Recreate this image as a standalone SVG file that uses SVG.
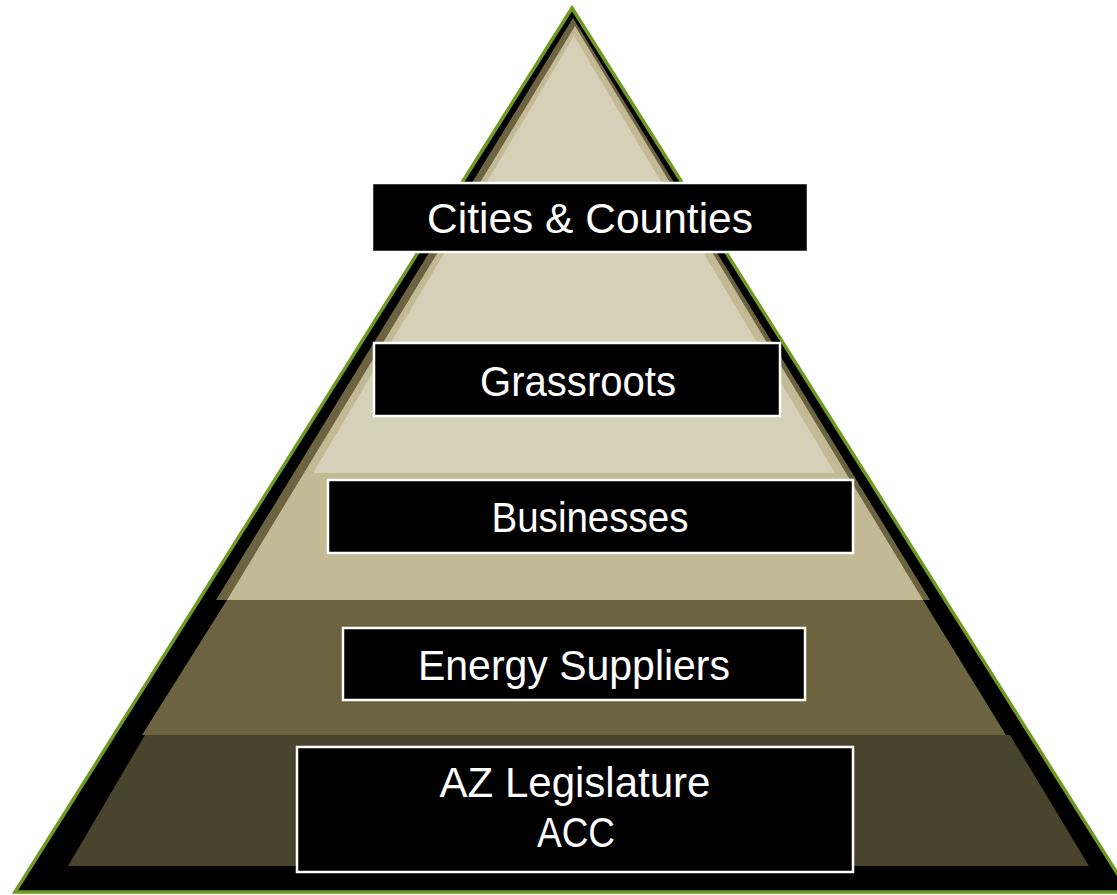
<svg xmlns="http://www.w3.org/2000/svg" width="1117" height="895" viewBox="0 0 1117 895">
<style>
.box{fill:#000;stroke:#fff;stroke-width:2.5}
.lbl{fill:#fff;font-family:"Liberation Sans",Arial,sans-serif;font-size:42px;text-anchor:middle}
</style>
<rect width="1117" height="895" fill="#fff"/>
<g id="pyramid">
<polygon points="572,8 1129,892 15,892" fill="#000" stroke="#6f9a22" stroke-width="3.5" stroke-linejoin="miter"/>
<polygon points="573,18 216,600 930,600" fill="#6c6441"/>
<polygon points="575,26 227,600 923,600" fill="#c2b995"/>
<polygon points="574,36 313,473 835,473" fill="#d7d0b8"/>
<polygon points="227,600 923,600 1006,735 142,735" fill="#6c6441"/>
<polygon points="145,735 1010,735 1089,866 68,866" fill="#4a432d"/>
</g>
<g id="connectors"/>
<g id="node-cities">
<rect class="box" x="372" y="183" width="436" height="69"/>
<text class="lbl" x="590" y="233" textLength="326" lengthAdjust="spacingAndGlyphs">Cities &amp; Counties</text>
</g>
<g id="node-grassroots">
<rect class="box" x="374" y="343" width="406" height="73"/>
<text class="lbl" x="578" y="396" textLength="196" lengthAdjust="spacingAndGlyphs">Grassroots</text>
</g>
<g id="node-businesses">
<rect class="box" x="328" y="480" width="525" height="73"/>
<text class="lbl" x="590" y="532" textLength="197" lengthAdjust="spacingAndGlyphs">Businesses</text>
</g>
<g id="node-energy">
<rect class="box" x="343" y="628" width="462" height="72"/>
<text class="lbl" x="574" y="680" textLength="312" lengthAdjust="spacingAndGlyphs">Energy Suppliers</text>
</g>
<g id="node-az">
<rect class="box" x="297" y="747" width="556" height="125"/>
<text class="lbl" x="575" y="797" textLength="271" lengthAdjust="spacingAndGlyphs">AZ Legislature</text>
<text class="lbl" x="576" y="847" textLength="78" lengthAdjust="spacingAndGlyphs">ACC</text>
</g>
</svg>
